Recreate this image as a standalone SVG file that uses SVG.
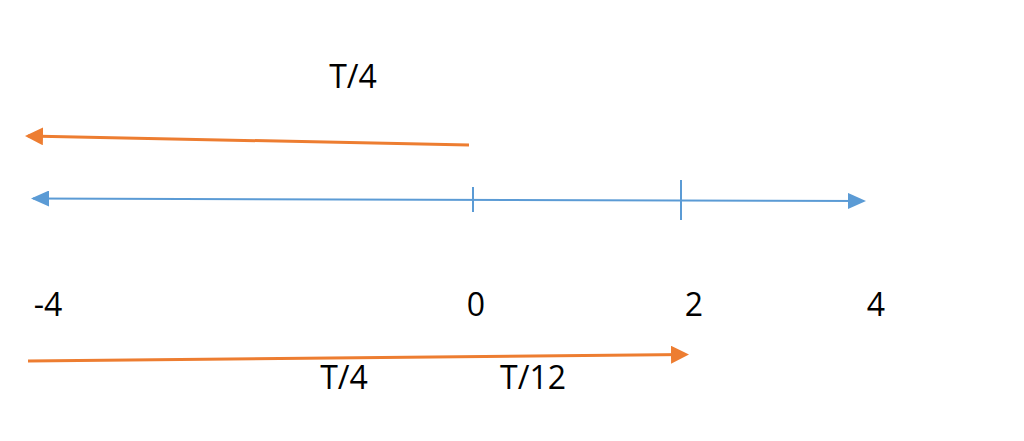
<svg xmlns="http://www.w3.org/2000/svg" width="1024" height="441" viewBox="0 0 1024 441">
<style>
text{font-family:"Open Sans","Liberation Sans",sans-serif;font-size:32px;fill:#000;text-anchor:middle}
.o{stroke:#ED7D31;stroke-width:3;fill:none}
.b{stroke:#5B9BD5;stroke-width:2;fill:none}
</style>
<defs>
<marker id="ao" markerWidth="6" markerHeight="6" refX="5" refY="3" orient="auto" markerUnits="strokeWidth"><path d="M0,0 L6,3 L0,6 z" fill="#ED7D31"/></marker>
<marker id="ab" markerWidth="9" markerHeight="8" refX="8" refY="4" orient="auto-start-reverse" markerUnits="strokeWidth"><path d="M0,0 L9,4 L0,8 z" fill="#5B9BD5"/></marker>
</defs>
<rect width="1024" height="441" fill="#fff"/>
<g id="connectors">
<line class="o" x1="469" y1="145" x2="28" y2="136" marker-end="url(#ao)"/>
<line class="b" x1="33" y1="198.5" x2="864" y2="201" marker-start="url(#ab)" marker-end="url(#ab)"/>
<line class="b" x1="473" y1="187" x2="473" y2="212"/>
<line class="b" x1="681" y1="180" x2="681" y2="220"/>
<line class="o" x1="28" y1="361" x2="686" y2="354.5" marker-end="url(#ao)"/>
</g>
<g id="label-top"><text x="353" y="88">T/4</text></g>
<g id="tick-m4"><text x="48" y="316">-4</text></g>
<g id="tick-0"><text x="476" y="316">0</text></g>
<g id="tick-2"><text x="694" y="316">2</text></g>
<g id="tick-4"><text x="876" y="316">4</text></g>
<g id="label-t4"><text x="344" y="389">T/4</text></g>
<g id="label-t12"><text x="533" y="389">T/12</text></g>
</svg>
